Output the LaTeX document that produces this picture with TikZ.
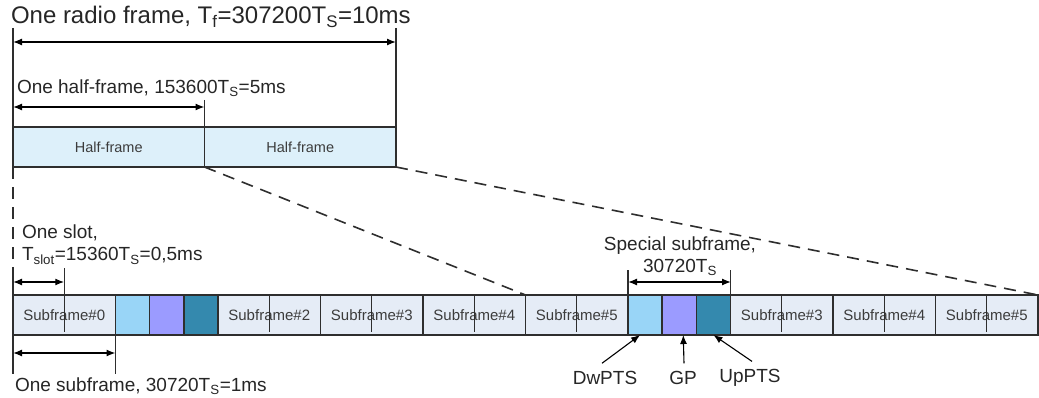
\documentclass[tikz,border=0pt]{standalone}
\usepackage{fontspec}
\setmainfont{Liberation Sans}
\usetikzlibrary{positioning,arrows.meta}

\definecolor{halffill}{HTML}{DDF0FA}
\definecolor{subfill}{HTML}{E5ECF6}
\definecolor{dwfill}{HTML}{99D5F7}
\definecolor{gpfill}{HTML}{9B9BFF}
\definecolor{upfill}{HTML}{3489AE}
\definecolor{linegray}{HTML}{2E2E2E}
\definecolor{txtgray}{HTML}{3C3C3C}

\begin{document}
\begin{tikzpicture}[x=1pt, y=-1pt,
	every node/.style={inner sep=0pt, outer sep=0pt},
	halfbox/.style={rectangle, draw=linegray, line width=1.4pt, fill=halffill, minimum width=191.5pt, minimum height=40pt, font=\fontsize{14.5}{14.5}\selectfont, text=txtgray},
	subbox/.style={rectangle, draw=linegray, line width=1.4pt, fill=subfill, minimum width=102.5pt, minimum height=40pt, font=\fontsize{15}{15}\selectfont, text=txtgray},
	specbox/.style={rectangle, draw=linegray, line width=1.4pt, minimum width=34.17pt, minimum height=40pt},
	lbl/.style={font=\fontsize{19}{22}\selectfont, text=black!85},
	guide/.style={line width=1.3pt, draw=linegray},
	dimarrow/.style={{Latex[length=9pt,width=7pt]}-{Latex[length=9pt,width=7pt]}, line width=1.3pt},
	pointer/.style={-{Latex[length=9pt,width=7pt]}, line width=1.1pt},
	zoomline/.style={dash pattern=on 12pt off 8pt, line width=1.6pt, draw=linegray}]
	\useasboundingbox (0,0) rectangle (1039,398);

	% radio frame split in two halves
	\node (half1) [halfbox, anchor=north west] at (13,127) {Half-frame};
	\node (half2) [halfbox, right=0pt of half1] {Half-frame};

	% one frame, subframe by subframe
	\node (sf0) [subbox, anchor=north west] at (13,295) {Subframe\#0};
	\node (dw1) [specbox, fill=dwfill, right=0pt of sf0] {};
	\node (gp1) [specbox, fill=gpfill, right=0pt of dw1] {};
	\node (up1) [specbox, fill=upfill, right=0pt of gp1] {};
	\node (sf2) [subbox, right=0pt of up1] {Subframe\#2};
	\node (sf3) [subbox, right=0pt of sf2] {Subframe\#3};
	\node (sf4) [subbox, right=0pt of sf3] {Subframe\#4};
	\node (sf5) [subbox, right=0pt of sf4] {Subframe\#5};
	\node (dw6) [specbox, fill=dwfill, right=0pt of sf5] {};
	\node (gp6) [specbox, fill=gpfill, right=0pt of dw6] {};
	\node (up6) [specbox, fill=upfill, right=0pt of gp6] {};
	\node (sf7) [subbox, right=0pt of up6] {Subframe\#3};
	\node (sf8) [subbox, right=0pt of sf7] {Subframe\#4};
	\node (sf9) [subbox, right=0pt of sf8] {Subframe\#5};

	% slot borders
	\foreach \s in {sf2,sf3,sf4,sf5,sf7,sf8,sf9}
		\draw[guide] (\s.north) -- ([yshift=3pt]\s.south);

	% labels
	\node (frame-lbl) [lbl, font=\fontsize{24}{26}\selectfont, anchor=west] at (11,17) {One radio frame, T\textsubscript{f}=307200T\textsubscript{S}=10ms};
	\node (half-lbl) [lbl, anchor=west] at (17,88) {One half-frame, 153600T\textsubscript{S}=5ms};
	\node (slot-lbl) [lbl, align=left, anchor=north west] at (22,225) {One slot,\\T\textsubscript{slot}=15360T\textsubscript{S}=0,5ms};
	\node (sub-lbl) [lbl, anchor=west] at (15,386) {One subframe, 30720T\textsubscript{S}=1ms};
	\node (spec-lbl) [lbl, align=center] at (680,256) {Special subframe,\\30720T\textsubscript{S}};
	\node (dw-lbl) [lbl] at (605,378) {DwPTS};
	\node (gp-lbl) [lbl] at (683,378) {GP};
	\node (up-lbl) [lbl] at (750,378) {UpPTS};

	% end points of the dimension lines
	\coordinate (frame-l) at (13,28);
	\coordinate (frame-r) at (396,28);
	\coordinate (framea-l) at (13,42);
	\coordinate (framea-r) at (396,42);
	\coordinate (halfa-l) at (13,107);
	\coordinate (halfa-r) at (204.5,107);
	\coordinate (slot-l) at (13,268);
	\coordinate (slot-r) at ([yshift=27pt]sf0.north);
	\coordinate (slota-l) at (13,282);
	\coordinate (slota-r) at (64.25,282);
	\coordinate (suba-l) at (13,353);
	\coordinate (suba-r) at (115.5,353);
	\coordinate (sub-l) at (13,374);
	\coordinate (sub-r) at (115.5,374);
	\coordinate (spec-l) at ([yshift=25pt]dw6.north west);
	\coordinate (spec-r) at ([yshift=25pt]up6.north east);
	\coordinate (speca-l) at (628,282);
	\coordinate (speca-r) at (731,282);

	% frame and half-frame
	\draw[guide] (frame-l) -- (half1.south west);
	\draw[guide] (frame-r) -- (half2.south east);
	\draw[guide] ([yshift=27pt]half1.north east) -- (half1.south east);
	\draw[dimarrow] (framea-l) -- (framea-r);
	\draw[dimarrow] (halfa-l) -- (halfa-r);

	% zoom from the half-frames down to the subframes
	\draw[zoomline] (half1.south west) -- (slot-l);
	\draw[zoomline] (half1.south east) -- (sf5.north west);
	\draw[zoomline] (half2.south east) -- (sf9.north east);

	% slot and subframe
	\draw[guide] (slot-l) -- (sf0.north west);
	\draw[guide] (slot-r) -- ([yshift=3pt]sf0.south);
	\draw[dimarrow] (slota-l) -- (slota-r);
	\draw[guide] (sf0.south west) -- (sub-l);
	\draw[guide] (sf0.south east) -- (sub-r);
	\draw[dimarrow] (suba-l) -- (suba-r);

	% special subframe
	\draw[guide] (spec-l) -- (dw6.north west);
	\draw[guide] (spec-r) -- (up6.north east);
	\draw[dimarrow] (speca-l) -- (speca-r);
	\draw[pointer] ([shift={(-3,-8)}]dw-lbl.north) -- ([xshift=-5pt]dw6.south);
	\draw[pointer] ([shift={(1,-8)}]gp-lbl.north) -- ([xshift=4pt]gp6.south);
	\draw[pointer] ([shift={(2,-8)}]up-lbl.north) -- (up6.south);
\end{tikzpicture}
\end{document}
